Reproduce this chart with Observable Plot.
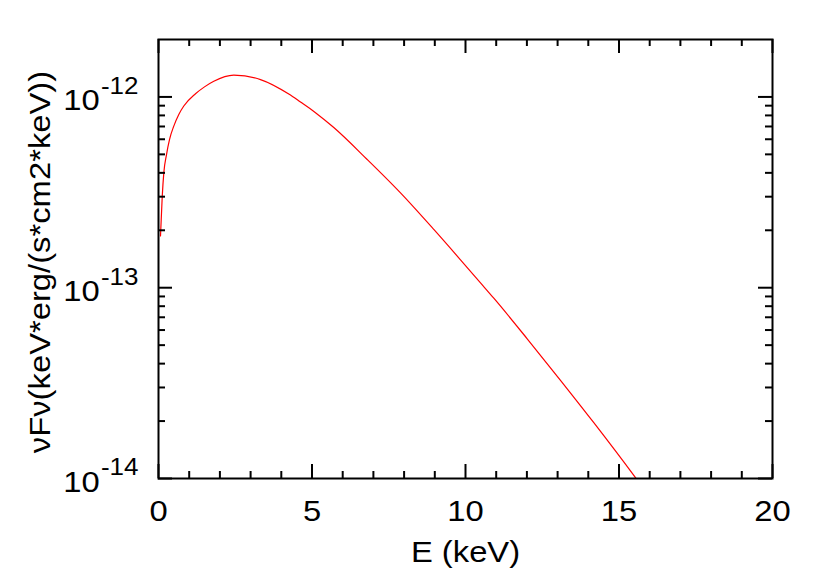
<!DOCTYPE html>
<html>
<head>
<meta charset="utf-8">
<script src="https://cdn.jsdelivr.net/npm/d3@7"></script>
<script src="https://cdn.jsdelivr.net/npm/@observablehq/plot@0.6"></script>
<style>
  html, body { margin: 0; padding: 0; background: #fff; }
  #chart svg { display: block; background: #fff; }
</style>
</head>
<body>
<div id="chart"></div>
<script>
// Energy (keV)
const energy = [0.065, 0.121, 0.173, 0.261, 0.358, 0.498, 0.661, 0.824, 1.205, 1.498, 1.801, 2.453, 3.322, 4.244, 4.625, 5.114, 5.710, 6.798, 7.883, 8.967, 9.837, 10.489, 10.922, 12.01, 13.094, 14.179, 15.537, 16.0];
// νFν values
const nuFnu = [1.87e-13, 2.99e-13, 4.00e-13, 4.99e-13, 5.98e-13, 7.03e-13, 8.09e-13, 8.96e-13, 1.039e-12, 1.129e-12, 1.208e-12, 1.30e-12, 1.233e-12, 1.035e-12, 9.40e-13, 8.27e-13, 6.91e-13, 4.70e-13, 3.14e-13, 2.02e-13, 1.40e-13, 1.06e-13, 8.81e-14, 5.40e-14, 3.27e-14, 1.96e-14, 1.01e-14, 8.0e-15];

const xMajor = [0, 5, 10, 15, 20];
const xMinor = [1, 2, 3, 4, 6, 7, 8, 9, 11, 12, 13, 14, 16, 17, 18, 19];
const yMajor = [1e-14, 1e-13, 1e-12];
const yMinor = [2e-14, 3e-14, 4e-14, 5e-14, 6e-14, 7e-14, 8e-14, 9e-14,
                2e-13, 3e-13, 4e-13, 5e-13, 6e-13, 7e-13, 8e-13, 9e-13];
const xDomain = [0, 20];
const yDomain = [1e-14, 2e-12];
const xLabel = "E (keV)";
const yLabel = "νFν(keV*erg/(s*cm2*keV))";

const data = energy.map((e, i) => ({E: e, v: nuFnu[i]}));

const W = 830, H = 581;
const mL = 158, mR = 58, mT = 39, mB = 103;
const fw = W - mL - mR, fh = H - mT - mB;
const majLen = 14, minLen = 7;
const FS = 29;
const STRETCH = 1.13;

const chart = Plot.plot({
  width: W,
  height: H,
  marginLeft: mL,
  marginRight: mR,
  marginTop: mT,
  marginBottom: mB,
  style: {fontFamily: "'Liberation Sans', Arial, Helvetica, sans-serif", fontSize: FS + "px", color: "black", background: "white"},
  x: {domain: xDomain, ticks: xMajor, tickSize: 0, tickPadding: 22, label: null, tickFormat: d => String(d)},
  y: {type: "log", domain: yDomain, ticks: yMajor, tickSize: 0, tickPadding: 20, label: null,
      tickFormat: d => "10^" + Math.round(Math.log10(d))},
  marks: [
    Plot.line(data, {x: "E", y: "v", stroke: "#ff0000", strokeWidth: 1.2, curve: "monotone-x", clip: true}),
    // inward ticks: bottom & top
    Plot.tickX(xMajor, {x: d => d, stroke: "black", strokeWidth: 2, insetTop: fh - majLen}),
    Plot.tickX(xMajor, {x: d => d, stroke: "black", strokeWidth: 2, insetBottom: fh - majLen}),
    Plot.tickX(xMinor, {x: d => d, stroke: "black", strokeWidth: 2, insetTop: fh - minLen}),
    Plot.tickX(xMinor, {x: d => d, stroke: "black", strokeWidth: 2, insetBottom: fh - minLen}),
    // inward ticks: left & right
    Plot.tickY(yMajor, {y: d => d, stroke: "black", strokeWidth: 2, insetRight: fw - majLen}),
    Plot.tickY(yMajor, {y: d => d, stroke: "black", strokeWidth: 2, insetLeft: fw - majLen}),
    Plot.tickY(yMinor, {y: d => d, stroke: "black", strokeWidth: 2, insetRight: fw - minLen}),
    Plot.tickY(yMinor, {y: d => d, stroke: "black", strokeWidth: 2, insetLeft: fw - minLen}),
    Plot.frame({stroke: "black", strokeWidth: 2}),
    Plot.text([xLabel], {frameAnchor: "bottom", textAnchor: "middle", lineAnchor: "middle", dy: 74.5, text: d => d, fontSize: FS, fill: "black"}),
    Plot.text([yLabel], {frameAnchor: "left", textAnchor: "middle", lineAnchor: "middle", dx: -118, dy: 3, rotate: -90, text: d => d, fontSize: FS, fill: "black"})
  ]
});

const ns = "http://www.w3.org/2000/svg";
// turn "10^-12" tick labels into real superscripts
chart.querySelectorAll("text").forEach(t => {
  const m = /^10\^(-?\d+)$/.exec(t.textContent.trim());
  if (!m) return;
  t.textContent = "";
  const base = document.createElementNS(ns, "tspan");
  base.setAttribute("dy", "4");
  base.textContent = "10";
  const sup = document.createElementNS(ns, "tspan");
  sup.setAttribute("dy", "-16.5");
  sup.setAttribute("dx", "1");
  sup.setAttribute("font-size", "23");
  sup.textContent = m[1];
  t.appendChild(base);
  t.appendChild(sup);
});

// the reference font is slightly wider than Liberation Sans: stretch text horizontally about its anchor
chart.querySelectorAll("text").forEach(t => {
  const x = parseFloat(t.getAttribute("x") || "0") || 0;
  const tr = t.getAttribute("transform") || "";
  t.setAttribute("transform", `${tr} translate(${x},0) scale(${STRETCH},1) translate(${-x},0)`.trim());
});

document.getElementById("chart").appendChild(chart);
</script>
</body>
</html>
